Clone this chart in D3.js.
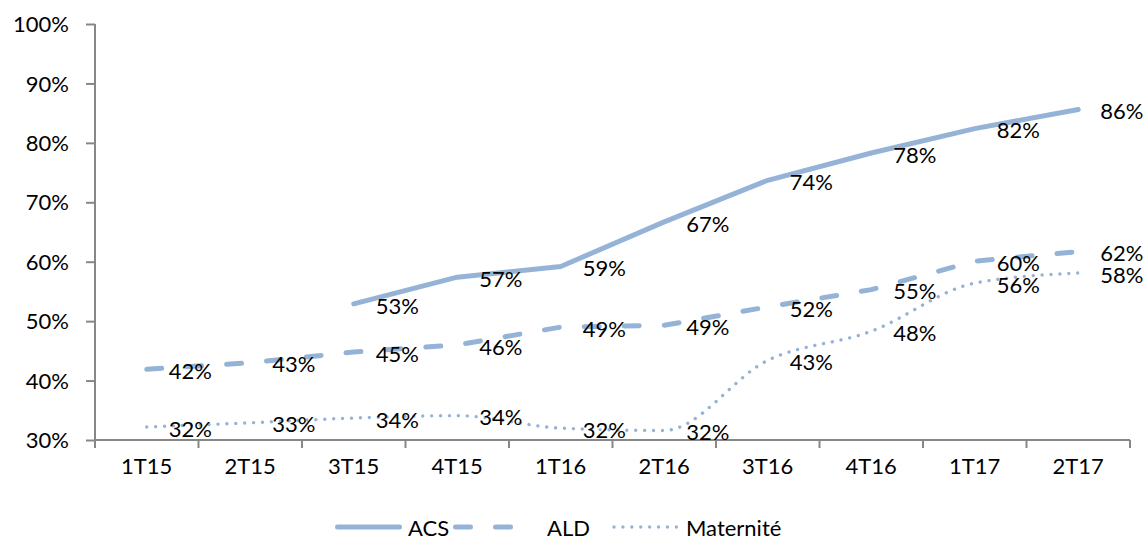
<!DOCTYPE html>
<html>
<head>
<meta charset="utf-8">
<script src="https://cdn.jsdelivr.net/npm/d3@7"></script>
<style>
  html, body { margin: 0; padding: 0; background: #fff; }
  svg { display: block; font-family: Lato, "Open Sans", sans-serif; }
</style>
</head>
<body>
<svg id="chart" width="1144" height="540"></svg>
<script>
// Quarterly coverage rates (%)
const quarters = ["1T15", "2T15", "3T15", "4T15", "1T16", "2T16", "3T16", "4T16", "1T17", "2T17"];
const acs       = [null, null, 52.9, 57.4, 59.2, 66.7, 73.7, 78.3, 82.4, 85.6];
const ald       = [41.9, 43.0, 44.8, 46.0, 49.0, 49.3, 52.4, 55.3, 60.1, 61.7];
const maternite = [32.2, 32.9, 33.7, 34.1, 32.0, 31.6, 43.4, 48.3, 56.4, 58.1];
const yTicks    = [30, 40, 50, 60, 70, 80, 90, 100];

const seriesNames = ["ACS", "ALD", "Maternité"];
const seriesValues = [acs, ald, maternite];

const COLOR = "#95B3D7";
const AXIS = "#878787";
const FONT = 22;

const svg = d3.select("#chart");
const plotLeft = 95, plotRight = 1130, plotTop = 24, plotBottom = 440;

const x = d3.scaleBand().domain(quarters).range([plotLeft, plotRight]).padding(0);
const y = d3.scaleLinear().domain([30, 100]).range([plotBottom, plotTop]);
const cx = q => x(q) + x.bandwidth() / 2;

// Line styles per series
const styles = [
  { width: 5, dash: null, cap: "round", curve: d3.curveLinear },
  { width: 5, dash: "15 25", cap: "round", curve: d3.curveLinear },
  { width: 3.4, dash: "0.01 8.9", cap: "round", curve: d3.curveMonotoneX }
];

// Axes
const yAxis = d3.axisLeft(y).tickValues(yTicks).tickSize(9).tickPadding(17)
  .tickFormat(d => d + "%");
const yg = svg.append("g").attr("transform", `translate(${plotLeft},0)`).call(yAxis);

const xAxis = d3.axisBottom(x).tickSize(0).tickPadding(26);
const xg = svg.append("g").attr("transform", `translate(0,${plotBottom})`).call(xAxis);

// Tick marks on category boundaries
const bounds = quarters.map(q => x(q)).concat([plotRight]);
xg.selectAll(".bound").data(bounds).join("line")
  .attr("class", "bound")
  .attr("x1", d => d).attr("x2", d => d)
  .attr("y1", 0).attr("y2", 8);

[yg, xg].forEach(g => {
  g.selectAll("path.domain").attr("stroke", AXIS).attr("stroke-width", 2);
  g.selectAll("line").attr("stroke", AXIS).attr("stroke-width", 2);
  g.selectAll("text").attr("font-size", FONT).attr("fill", "#000")
    .attr("font-family", "Lato, 'Open Sans', sans-serif");
});
yg.select("path.domain").attr("d", `M0,${plotTop}V${plotBottom}`);
xg.select("path.domain").attr("d", `M${plotLeft},0H${plotRight}`);
yg.selectAll("text").attr("dy", "0.35em");
xg.selectAll(".tick text").attr("dy", "0.35em");

// Series lines
seriesValues.forEach((vals, i) => {
  const st = styles[i];
  const pts = quarters.map((q, k) => ({ q, v: vals[k] })).filter(d => d.v != null);
  const line = d3.line().x(d => cx(d.q)).y(d => y(d.v)).curve(st.curve);
  svg.append("path")
    .datum(pts)
    .attr("d", line)
    .attr("fill", "none")
    .attr("stroke", COLOR)
    .attr("stroke-width", st.width)
    .attr("stroke-linecap", st.cap)
    .attr("stroke-linejoin", "round")
    .attr("stroke-dasharray", st.dash);
});

// Data labels, placed to the right of each point
seriesValues.forEach(vals => {
  const pts = quarters.map((q, k) => ({ q, v: vals[k] })).filter(d => d.v != null);
  svg.append("g").selectAll("text").data(pts).join("text")
    .attr("x", d => cx(d.q) + 22)
    .attr("y", d => y(d.v) + 2)
    .attr("dy", "0.35em")
    .attr("font-size", FONT)
    .attr("fill", "#000")
    .text(d => Math.round(d.v) + "%");
});

// Legend
const legendY = 527;
const legendItems = [
  { x1: 337.5, x2: 399.5, tx: 408 },
  { x1: 455.5, x2: 510.5, tx: 547 },
  { x1: 614, x2: 678, tx: 686 }
];
legendItems.forEach((it, i) => {
  const st = styles[i];
  svg.append("line")
    .attr("x1", it.x1).attr("x2", it.x2)
    .attr("y1", legendY).attr("y2", legendY)
    .attr("stroke", COLOR)
    .attr("stroke-width", st.width)
    .attr("stroke-linecap", st.cap)
    .attr("stroke-dasharray", st.dash);
  svg.append("text")
    .attr("x", it.tx).attr("y", legendY + 1)
    .attr("dy", "0.35em")
    .attr("font-size", FONT)
    .attr("fill", "#000")
    .text(seriesNames[i]);
});
</script>
</body>
</html>
